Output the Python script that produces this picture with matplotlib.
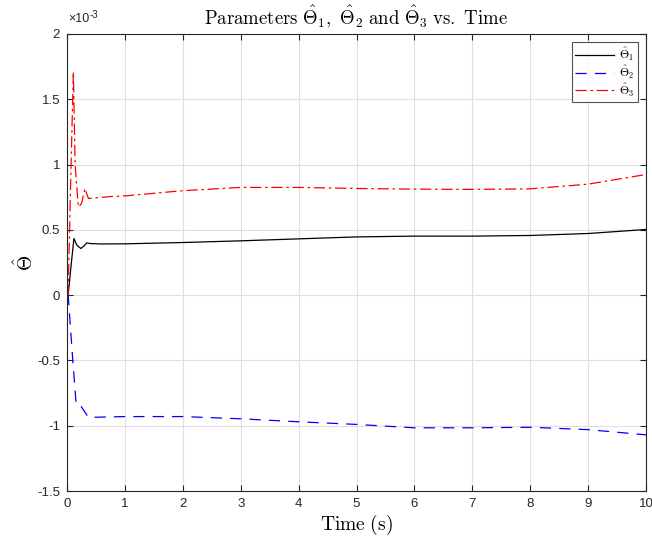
import matplotlib
matplotlib.use("Agg")
import matplotlib.pyplot as plt

plt.rcParams['font.family'] = ['Liberation Sans', 'DejaVu Sans']
plt.rcParams['mathtext.fontset'] = 'cm'

# Data (values in units of 1e-3)
t1 = [0, 0.02, 0.08, 0.12, 0.17, 0.24, 0.30, 0.34, 0.40, 0.57, 1, 2, 3, 4, 5, 6, 7, 8, 9, 10]
theta1 = [0, 0, 0.268, 0.434, 0.383, 0.357, 0.38, 0.40, 0.395, 0.392, 0.393, 0.403, 0.416,
          0.431, 0.446, 0.452, 0.452, 0.457, 0.472, 0.503]

t2 = [0, 0.02, 0.10, 0.155, 0.19, 0.25, 0.27, 0.37, 0.5, 1, 2, 3, 4, 5, 6, 7, 8, 9, 10]
theta2 = [0, 0, -0.5, -0.817, -0.855, -0.855, -0.87, -0.935, -0.935, -0.93, -0.93, -0.947,
          -0.97, -0.99, -1.016, -1.016, -1.012, -1.03, -1.07]

t3 = [0, 0.02, 0.07, 0.11, 0.14, 0.195, 0.25, 0.31, 0.37, 0.5, 0.74, 1, 2, 3, 4, 5, 6, 7, 8, 9, 10]
theta3 = [0, 0, 1.0, 1.71, 1.0, 0.676, 0.70, 0.817, 0.74, 0.745, 0.755, 0.76, 0.80, 0.825,
          0.825, 0.817, 0.812, 0.81, 0.814, 0.85, 0.924]

labels = [r'$\hat{\Theta}_1$', r'$\hat{\Theta}_2$', r'$\hat{\Theta}_3$']
xticks = list(range(0, 11))
yticks = [-1.5, -1, -0.5, 0, 0.5, 1, 1.5, 2]
ytick_labels = ['-1.5', '-1', '-0.5', '0', '0.5', '1', '1.5', '2']

fig = plt.figure(figsize=(6.52, 5.37), dpi=100)
ax = fig.add_axes([67/652, 1 - 491/537, (646-67)/652, (491-34)/537])

ax.plot(t1, [v * 1e-3 for v in theta1], color='black', lw=0.9, label=labels[0])
ax.plot(t2, [v * 1e-3 for v in theta2], color='blue', lw=0.9, ls=(0, (9, 6.5)), label=labels[1])
ax.plot(t3, [v * 1e-3 for v in theta3], color='red', lw=0.9, ls=(0, (9, 3, 2, 3)), label=labels[2])

ax.set_xlim(0, 10)
ax.set_ylim(-1.5e-3, 2e-3)
ax.set_xticks(xticks)
ax.set_xticklabels([str(x) for x in xticks])
ax.set_yticks([y * 1e-3 for y in yticks])
ax.set_yticklabels(ytick_labels)

ax.grid(True, color='#dfdfdf', lw=0.8)
ax.set_axisbelow(True)
for s in ax.spines.values():
    s.set_color('#262626')
    s.set_linewidth(0.8)
ax.tick_params(direction='in', top=True, right=True, length=4, width=0.8,
               colors='#262626', labelsize=9.5, pad=5)

ax.set_title(r'$\mathrm{Parameters}\ \hat{\Theta}_1,\ \hat{\Theta}_2\ \mathrm{and}\ \hat{\Theta}_3\ \mathrm{vs.\ Time}$',
             fontsize=13.5, pad=7, color='black')
ax.set_xlabel(r'$\mathrm{Time\ (s)}$', fontsize=14, labelpad=2)
ax.set_ylabel(r'$\hat{\Theta}$', fontsize=14, labelpad=0)

fig.text(68/652, 1 - 19/537, '×10', fontsize=9, color='#262626',
         ha='left', va='center')
fig.text(90/652, 1 - 15/537, '-3', fontsize=7, color='#262626',
         ha='left', va='center')

leg = ax.legend(loc='upper right', fontsize=8.5, frameon=True, fancybox=False,
                edgecolor='#262626', borderaxespad=0.7, handlelength=3.3,
                labelspacing=0.05, borderpad=0.3, handletextpad=0.4)
leg.get_frame().set_linewidth(0.8)

fig.savefig('out.png', dpi=100)
